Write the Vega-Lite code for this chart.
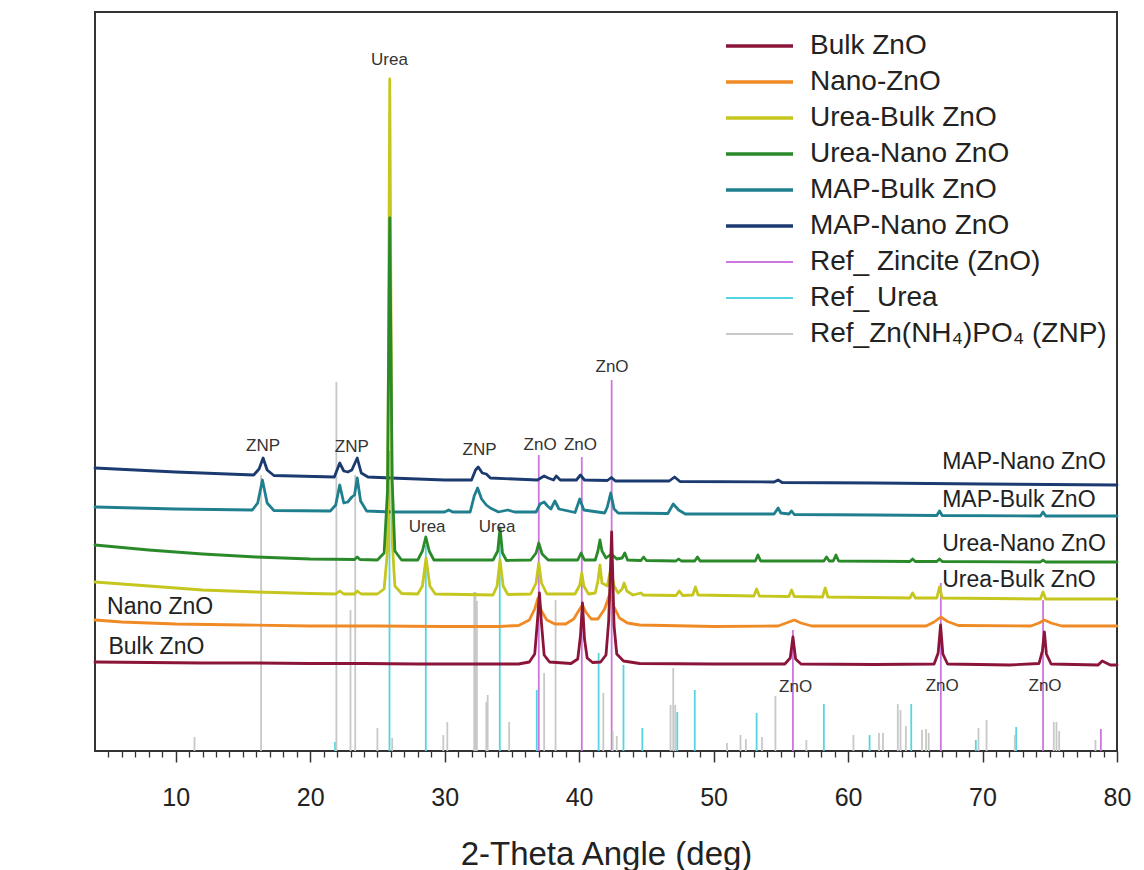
{
"$schema": "https://vega.github.io/schema/vega-lite/v6.json",
"width": 1022, "height": 739,
"autosize": {"type": "none"},
"padding": {"left": 95, "top": 12, "right": 27, "bottom": 119},
"background": "white",
"config": {"font": "Liberation Sans", "view": {"stroke": "#333", "strokeWidth": 2}, "axis": {"grid": false}},
"datasets": {
"sticks": [
{"series":"Ref_ Zincite (ZnO)","angle":37.0,"intensity":296},{"series":"Ref_ Zincite (ZnO)","angle":40.2,"intensity":294},{"series":"Ref_ Zincite (ZnO)","angle":42.42,"intensity":371},{"series":"Ref_ Zincite (ZnO)","angle":55.9,"intensity":121},{"series":"Ref_ Zincite (ZnO)","angle":66.9,"intensity":168},{"series":"Ref_ Zincite (ZnO)","angle":74.5,"intensity":151},{"series":"Ref_ Zincite (ZnO)","angle":78.8,"intensity":22},
{"series":"Ref_ Urea","angle":21.85,"intensity":9},{"series":"Ref_ Urea","angle":25.9,"intensity":300},{"series":"Ref_ Urea","angle":28.6,"intensity":206},{"series":"Ref_ Urea","angle":34.1,"intensity":216},{"series":"Ref_ Urea","angle":36.85,"intensity":61},{"series":"Ref_ Urea","angle":41.45,"intensity":98},{"series":"Ref_ Urea","angle":43.3,"intensity":86},{"series":"Ref_ Urea","angle":44.7,"intensity":23},{"series":"Ref_ Urea","angle":47.3,"intensity":39},{"series":"Ref_ Urea","angle":48.6,"intensity":61},{"series":"Ref_ Urea","angle":53.2,"intensity":38},{"series":"Ref_ Urea","angle":58.2,"intensity":47},{"series":"Ref_ Urea","angle":61.6,"intensity":16},{"series":"Ref_ Urea","angle":64.7,"intensity":47},{"series":"Ref_ Urea","angle":69.5,"intensity":11},{"series":"Ref_ Urea","angle":72.5,"intensity":24},
{"series":"Ref_Zn(NH₄)PO₄ (ZNP)","angle":11.4,"intensity":14},{"series":"Ref_Zn(NH₄)PO₄ (ZNP)","angle":16.35,"intensity":276},{"series":"Ref_Zn(NH₄)PO₄ (ZNP)","angle":21.95,"intensity":369},{"series":"Ref_Zn(NH₄)PO₄ (ZNP)","angle":23.0,"intensity":141},{"series":"Ref_Zn(NH₄)PO₄ (ZNP)","angle":23.35,"intensity":276},{"series":"Ref_Zn(NH₄)PO₄ (ZNP)","angle":25.0,"intensity":23},{"series":"Ref_Zn(NH₄)PO₄ (ZNP)","angle":26.1,"intensity":13},{"series":"Ref_Zn(NH₄)PO₄ (ZNP)","angle":29.9,"intensity":16},{"series":"Ref_Zn(NH₄)PO₄ (ZNP)","angle":30.2,"intensity":29},{"series":"Ref_Zn(NH₄)PO₄ (ZNP)","angle":32.2,"intensity":159},{"series":"Ref_Zn(NH₄)PO₄ (ZNP)","angle":32.3,"intensity":159},{"series":"Ref_Zn(NH₄)PO₄ (ZNP)","angle":32.4,"intensity":150},{"series":"Ref_Zn(NH₄)PO₄ (ZNP)","angle":33.1,"intensity":49},{"series":"Ref_Zn(NH₄)PO₄ (ZNP)","angle":33.2,"intensity":56},{"series":"Ref_Zn(NH₄)PO₄ (ZNP)","angle":34.8,"intensity":29},{"series":"Ref_Zn(NH₄)PO₄ (ZNP)","angle":37.4,"intensity":78},{"series":"Ref_Zn(NH₄)PO₄ (ZNP)","angle":38.25,"intensity":151},{"series":"Ref_Zn(NH₄)PO₄ (ZNP)","angle":41.8,"intensity":58},{"series":"Ref_Zn(NH₄)PO₄ (ZNP)","angle":42.5,"intensity":20},{"series":"Ref_Zn(NH₄)PO₄ (ZNP)","angle":42.8,"intensity":15},{"series":"Ref_Zn(NH₄)PO₄ (ZNP)","angle":46.8,"intensity":46},{"series":"Ref_Zn(NH₄)PO₄ (ZNP)","angle":47.0,"intensity":83},{"series":"Ref_Zn(NH₄)PO₄ (ZNP)","angle":47.15,"intensity":46},{"series":"Ref_Zn(NH₄)PO₄ (ZNP)","angle":51.0,"intensity":8},{"series":"Ref_Zn(NH₄)PO₄ (ZNP)","angle":52.0,"intensity":16},{"series":"Ref_Zn(NH₄)PO₄ (ZNP)","angle":52.4,"intensity":12},{"series":"Ref_Zn(NH₄)PO₄ (ZNP)","angle":53.6,"intensity":14},{"series":"Ref_Zn(NH₄)PO₄ (ZNP)","angle":54.6,"intensity":55},{"series":"Ref_Zn(NH₄)PO₄ (ZNP)","angle":56.9,"intensity":11},{"series":"Ref_Zn(NH₄)PO₄ (ZNP)","angle":60.4,"intensity":16},{"series":"Ref_Zn(NH₄)PO₄ (ZNP)","angle":62.3,"intensity":18},{"series":"Ref_Zn(NH₄)PO₄ (ZNP)","angle":62.6,"intensity":18},{"series":"Ref_Zn(NH₄)PO₄ (ZNP)","angle":63.7,"intensity":47},{"series":"Ref_Zn(NH₄)PO₄ (ZNP)","angle":63.9,"intensity":41},{"series":"Ref_Zn(NH₄)PO₄ (ZNP)","angle":64.3,"intensity":25},{"series":"Ref_Zn(NH₄)PO₄ (ZNP)","angle":65.5,"intensity":21},{"series":"Ref_Zn(NH₄)PO₄ (ZNP)","angle":65.8,"intensity":22},{"series":"Ref_Zn(NH₄)PO₄ (ZNP)","angle":66.0,"intensity":18},{"series":"Ref_Zn(NH₄)PO₄ (ZNP)","angle":69.7,"intensity":23},{"series":"Ref_Zn(NH₄)PO₄ (ZNP)","angle":70.3,"intensity":31},{"series":"Ref_Zn(NH₄)PO₄ (ZNP)","angle":72.4,"intensity":16},{"series":"Ref_Zn(NH₄)PO₄ (ZNP)","angle":75.3,"intensity":29},{"series":"Ref_Zn(NH₄)PO₄ (ZNP)","angle":75.5,"intensity":29},{"series":"Ref_Zn(NH₄)PO₄ (ZNP)","angle":75.7,"intensity":20},{"series":"Ref_Zn(NH₄)PO₄ (ZNP)","angle":78.4,"intensity":11}
],
"patterns": [
{"series":"MAP-Nano ZnO","angle":4,"intensity":283},{"series":"MAP-Nano ZnO","angle":10,"intensity":279},{"series":"MAP-Nano ZnO","angle":15.8,"intensity":276},{"series":"MAP-Nano ZnO","angle":16.2,"intensity":282},{"series":"MAP-Nano ZnO","angle":16.5,"intensity":293},{"series":"MAP-Nano ZnO","angle":16.8,"intensity":281},{"series":"MAP-Nano ZnO","angle":17.3,"intensity":275.5},{"series":"MAP-Nano ZnO","angle":21.8,"intensity":274},{"series":"MAP-Nano ZnO","angle":22.2,"intensity":288},{"series":"MAP-Nano ZnO","angle":22.5,"intensity":280},{"series":"MAP-Nano ZnO","angle":22.8,"intensity":279},{"series":"MAP-Nano ZnO","angle":23.1,"intensity":281},{"series":"MAP-Nano ZnO","angle":23.5,"intensity":293},{"series":"MAP-Nano ZnO","angle":23.8,"intensity":278},{"series":"MAP-Nano ZnO","angle":24.3,"intensity":274},{"series":"MAP-Nano ZnO","angle":26,"intensity":273},{"series":"MAP-Nano ZnO","angle":30,"intensity":271},{"series":"MAP-Nano ZnO","angle":32.0,"intensity":271},{"series":"MAP-Nano ZnO","angle":32.3,"intensity":281},{"series":"MAP-Nano ZnO","angle":32.5,"intensity":284},{"series":"MAP-Nano ZnO","angle":32.8,"intensity":278},{"series":"MAP-Nano ZnO","angle":33.1,"intensity":277},{"series":"MAP-Nano ZnO","angle":33.4,"intensity":273},{"series":"MAP-Nano ZnO","angle":36.9,"intensity":271},{"series":"MAP-Nano ZnO","angle":37.4,"intensity":275},{"series":"MAP-Nano ZnO","angle":37.7,"intensity":273},{"series":"MAP-Nano ZnO","angle":38.1,"intensity":271},{"series":"MAP-Nano ZnO","angle":38.3,"intensity":275},{"series":"MAP-Nano ZnO","angle":38.6,"intensity":271},{"series":"MAP-Nano ZnO","angle":39.8,"intensity":271},{"series":"MAP-Nano ZnO","angle":40.1,"intensity":276},{"series":"MAP-Nano ZnO","angle":40.4,"intensity":271},{"series":"MAP-Nano ZnO","angle":42.1,"intensity":270.5},{"series":"MAP-Nano ZnO","angle":42.4,"intensity":273.5},{"series":"MAP-Nano ZnO","angle":42.7,"intensity":270},{"series":"MAP-Nano ZnO","angle":46.7,"intensity":270},{"series":"MAP-Nano ZnO","angle":47.1,"intensity":274},{"series":"MAP-Nano ZnO","angle":47.5,"intensity":269.5},{"series":"MAP-Nano ZnO","angle":54.5,"intensity":269},{"series":"MAP-Nano ZnO","angle":54.8,"intensity":271},{"series":"MAP-Nano ZnO","angle":55.1,"intensity":268.5},{"series":"MAP-Nano ZnO","angle":62,"intensity":268},{"series":"MAP-Nano ZnO","angle":70,"intensity":267},{"series":"MAP-Nano ZnO","angle":80,"intensity":266},
{"series":"MAP-Bulk ZnO","angle":4,"intensity":244},{"series":"MAP-Bulk ZnO","angle":10,"intensity":242},{"series":"MAP-Bulk ZnO","angle":15.7,"intensity":241},{"series":"MAP-Bulk ZnO","angle":16.1,"intensity":248},{"series":"MAP-Bulk ZnO","angle":16.45,"intensity":271},{"series":"MAP-Bulk ZnO","angle":16.8,"intensity":248},{"series":"MAP-Bulk ZnO","angle":17.3,"intensity":240.5},{"series":"MAP-Bulk ZnO","angle":21.5,"intensity":240},{"series":"MAP-Bulk ZnO","angle":21.9,"intensity":246},{"series":"MAP-Bulk ZnO","angle":22.2,"intensity":266},{"series":"MAP-Bulk ZnO","angle":22.5,"intensity":248},{"series":"MAP-Bulk ZnO","angle":22.8,"intensity":249},{"series":"MAP-Bulk ZnO","angle":23.1,"intensity":254},{"series":"MAP-Bulk ZnO","angle":23.3,"intensity":256},{"series":"MAP-Bulk ZnO","angle":23.5,"intensity":273},{"series":"MAP-Bulk ZnO","angle":23.75,"intensity":250},{"series":"MAP-Bulk ZnO","angle":24.2,"intensity":240},{"series":"MAP-Bulk ZnO","angle":26,"intensity":239},{"series":"MAP-Bulk ZnO","angle":30,"intensity":239},{"series":"MAP-Bulk ZnO","angle":30.3,"intensity":241},{"series":"MAP-Bulk ZnO","angle":30.6,"intensity":239},{"series":"MAP-Bulk ZnO","angle":31.9,"intensity":239},{"series":"MAP-Bulk ZnO","angle":32.2,"intensity":255},{"series":"MAP-Bulk ZnO","angle":32.45,"intensity":263},{"series":"MAP-Bulk ZnO","angle":32.75,"intensity":252},{"series":"MAP-Bulk ZnO","angle":33.1,"intensity":246},{"series":"MAP-Bulk ZnO","angle":33.4,"intensity":243},{"series":"MAP-Bulk ZnO","angle":34.0,"intensity":239},{"series":"MAP-Bulk ZnO","angle":34.7,"intensity":241},{"series":"MAP-Bulk ZnO","angle":35.2,"intensity":239},{"series":"MAP-Bulk ZnO","angle":36.8,"intensity":239},{"series":"MAP-Bulk ZnO","angle":37.1,"intensity":247},{"series":"MAP-Bulk ZnO","angle":37.4,"intensity":249},{"series":"MAP-Bulk ZnO","angle":37.65,"intensity":245},{"series":"MAP-Bulk ZnO","angle":37.9,"intensity":242},{"series":"MAP-Bulk ZnO","angle":38.2,"intensity":250},{"series":"MAP-Bulk ZnO","angle":38.5,"intensity":242},{"series":"MAP-Bulk ZnO","angle":39.7,"intensity":238.5},{"series":"MAP-Bulk ZnO","angle":40.05,"intensity":252},{"series":"MAP-Bulk ZnO","angle":40.35,"intensity":241},{"series":"MAP-Bulk ZnO","angle":41.9,"intensity":238},{"series":"MAP-Bulk ZnO","angle":42.1,"intensity":244},{"series":"MAP-Bulk ZnO","angle":42.35,"intensity":258},{"series":"MAP-Bulk ZnO","angle":42.6,"intensity":242},{"series":"MAP-Bulk ZnO","angle":42.9,"intensity":238},{"series":"MAP-Bulk ZnO","angle":46.6,"intensity":237.5},{"series":"MAP-Bulk ZnO","angle":47.0,"intensity":247},{"series":"MAP-Bulk ZnO","angle":47.4,"intensity":241},{"series":"MAP-Bulk ZnO","angle":47.9,"intensity":237},{"series":"MAP-Bulk ZnO","angle":54.5,"intensity":237},{"series":"MAP-Bulk ZnO","angle":54.8,"intensity":243},{"series":"MAP-Bulk ZnO","angle":55.0,"intensity":238},{"series":"MAP-Bulk ZnO","angle":55.6,"intensity":237},{"series":"MAP-Bulk ZnO","angle":55.8,"intensity":240},{"series":"MAP-Bulk ZnO","angle":56.0,"intensity":236.5},{"series":"MAP-Bulk ZnO","angle":62,"intensity":236},{"series":"MAP-Bulk ZnO","angle":66.6,"intensity":235.5},{"series":"MAP-Bulk ZnO","angle":66.8,"intensity":240},{"series":"MAP-Bulk ZnO","angle":67.0,"intensity":235.5},{"series":"MAP-Bulk ZnO","angle":74.3,"intensity":235},{"series":"MAP-Bulk ZnO","angle":74.5,"intensity":239},{"series":"MAP-Bulk ZnO","angle":74.7,"intensity":235},{"series":"MAP-Bulk ZnO","angle":80,"intensity":235},
{"series":"Urea-Bulk ZnO","angle":4,"intensity":169},{"series":"Urea-Bulk ZnO","angle":8,"intensity":165},{"series":"Urea-Bulk ZnO","angle":12,"intensity":161},{"series":"Urea-Bulk ZnO","angle":16,"intensity":159},{"series":"Urea-Bulk ZnO","angle":20,"intensity":157.5},{"series":"Urea-Bulk ZnO","angle":21.9,"intensity":157},{"series":"Urea-Bulk ZnO","angle":22.2,"intensity":160},{"series":"Urea-Bulk ZnO","angle":22.5,"intensity":157},{"series":"Urea-Bulk ZnO","angle":23.3,"intensity":157},{"series":"Urea-Bulk ZnO","angle":23.5,"intensity":160},{"series":"Urea-Bulk ZnO","angle":23.8,"intensity":157},{"series":"Urea-Bulk ZnO","angle":25.0,"intensity":157},{"series":"Urea-Bulk ZnO","angle":25.5,"intensity":162},{"series":"Urea-Bulk ZnO","angle":25.75,"intensity":200},{"series":"Urea-Bulk ZnO","angle":25.92,"intensity":672},{"series":"Urea-Bulk ZnO","angle":26.1,"intensity":210},{"series":"Urea-Bulk ZnO","angle":26.3,"intensity":165},{"series":"Urea-Bulk ZnO","angle":26.8,"intensity":157.5},{"series":"Urea-Bulk ZnO","angle":28.0,"intensity":157},{"series":"Urea-Bulk ZnO","angle":28.35,"intensity":165},{"series":"Urea-Bulk ZnO","angle":28.62,"intensity":193},{"series":"Urea-Bulk ZnO","angle":28.9,"intensity":165},{"series":"Urea-Bulk ZnO","angle":29.3,"intensity":157},{"series":"Urea-Bulk ZnO","angle":33.6,"intensity":156},{"series":"Urea-Bulk ZnO","angle":33.9,"intensity":165},{"series":"Urea-Bulk ZnO","angle":34.12,"intensity":191},{"series":"Urea-Bulk ZnO","angle":34.35,"intensity":165},{"series":"Urea-Bulk ZnO","angle":34.7,"intensity":156.5},{"series":"Urea-Bulk ZnO","angle":36.4,"intensity":157},{"series":"Urea-Bulk ZnO","angle":36.8,"intensity":168},{"series":"Urea-Bulk ZnO","angle":37.0,"intensity":188},{"series":"Urea-Bulk ZnO","angle":37.2,"intensity":168},{"series":"Urea-Bulk ZnO","angle":37.6,"intensity":157},{"series":"Urea-Bulk ZnO","angle":39.7,"intensity":157},{"series":"Urea-Bulk ZnO","angle":40.05,"intensity":166},{"series":"Urea-Bulk ZnO","angle":40.2,"intensity":178},{"series":"Urea-Bulk ZnO","angle":40.35,"intensity":165},{"series":"Urea-Bulk ZnO","angle":40.7,"intensity":157},{"series":"Urea-Bulk ZnO","angle":41.2,"intensity":158},{"series":"Urea-Bulk ZnO","angle":41.4,"intensity":170},{"series":"Urea-Bulk ZnO","angle":41.55,"intensity":186},{"series":"Urea-Bulk ZnO","angle":41.7,"intensity":168},{"series":"Urea-Bulk ZnO","angle":42.1,"intensity":165},{"series":"Urea-Bulk ZnO","angle":42.35,"intensity":182},{"series":"Urea-Bulk ZnO","angle":42.6,"intensity":165},{"series":"Urea-Bulk ZnO","angle":42.9,"intensity":158},{"series":"Urea-Bulk ZnO","angle":43.2,"intensity":162},{"series":"Urea-Bulk ZnO","angle":43.35,"intensity":168},{"series":"Urea-Bulk ZnO","angle":43.55,"intensity":160},{"series":"Urea-Bulk ZnO","angle":44.0,"intensity":156},{"series":"Urea-Bulk ZnO","angle":44.6,"intensity":158},{"series":"Urea-Bulk ZnO","angle":44.75,"intensity":156},{"series":"Urea-Bulk ZnO","angle":47.2,"intensity":155.5},{"series":"Urea-Bulk ZnO","angle":47.45,"intensity":160},{"series":"Urea-Bulk ZnO","angle":47.7,"intensity":155.5},{"series":"Urea-Bulk ZnO","angle":48.45,"intensity":156},{"series":"Urea-Bulk ZnO","angle":48.65,"intensity":164},{"series":"Urea-Bulk ZnO","angle":48.85,"intensity":156},{"series":"Urea-Bulk ZnO","angle":53.0,"intensity":155},{"series":"Urea-Bulk ZnO","angle":53.2,"intensity":162},{"series":"Urea-Bulk ZnO","angle":53.4,"intensity":155},{"series":"Urea-Bulk ZnO","angle":55.6,"intensity":154.5},{"series":"Urea-Bulk ZnO","angle":55.8,"intensity":161},{"series":"Urea-Bulk ZnO","angle":56.0,"intensity":154.5},{"series":"Urea-Bulk ZnO","angle":58.1,"intensity":154},{"series":"Urea-Bulk ZnO","angle":58.3,"intensity":163},{"series":"Urea-Bulk ZnO","angle":58.5,"intensity":154},{"series":"Urea-Bulk ZnO","angle":64.6,"intensity":153},{"series":"Urea-Bulk ZnO","angle":64.8,"intensity":158},{"series":"Urea-Bulk ZnO","angle":65.0,"intensity":153},{"series":"Urea-Bulk ZnO","angle":66.6,"intensity":153},{"series":"Urea-Bulk ZnO","angle":66.8,"intensity":164},{"series":"Urea-Bulk ZnO","angle":67.0,"intensity":153},{"series":"Urea-Bulk ZnO","angle":74.3,"intensity":152},{"series":"Urea-Bulk ZnO","angle":74.5,"intensity":159},{"series":"Urea-Bulk ZnO","angle":74.7,"intensity":152},{"series":"Urea-Bulk ZnO","angle":80,"intensity":152},
{"series":"Urea-Nano ZnO","angle":4,"intensity":206},{"series":"Urea-Nano ZnO","angle":8,"intensity":201},{"series":"Urea-Nano ZnO","angle":12,"intensity":197},{"series":"Urea-Nano ZnO","angle":16,"intensity":194},{"series":"Urea-Nano ZnO","angle":20,"intensity":192},{"series":"Urea-Nano ZnO","angle":23.3,"intensity":191.5},{"series":"Urea-Nano ZnO","angle":23.5,"intensity":194},{"series":"Urea-Nano ZnO","angle":23.7,"intensity":191.5},{"series":"Urea-Nano ZnO","angle":25.0,"intensity":191},{"series":"Urea-Nano ZnO","angle":25.5,"intensity":198},{"series":"Urea-Nano ZnO","angle":25.75,"intensity":260},{"series":"Urea-Nano ZnO","angle":25.92,"intensity":533},{"series":"Urea-Nano ZnO","angle":26.1,"intensity":270},{"series":"Urea-Nano ZnO","angle":26.3,"intensity":200},{"series":"Urea-Nano ZnO","angle":26.8,"intensity":191},{"series":"Urea-Nano ZnO","angle":28.0,"intensity":191},{"series":"Urea-Nano ZnO","angle":28.35,"intensity":200},{"series":"Urea-Nano ZnO","angle":28.6,"intensity":214},{"series":"Urea-Nano ZnO","angle":28.85,"intensity":200},{"series":"Urea-Nano ZnO","angle":29.2,"intensity":191},{"series":"Urea-Nano ZnO","angle":33.6,"intensity":191},{"series":"Urea-Nano ZnO","angle":33.95,"intensity":200},{"series":"Urea-Nano ZnO","angle":34.12,"intensity":223},{"series":"Urea-Nano ZnO","angle":34.3,"intensity":198},{"series":"Urea-Nano ZnO","angle":34.6,"intensity":190.5},{"series":"Urea-Nano ZnO","angle":36.4,"intensity":191},{"series":"Urea-Nano ZnO","angle":36.8,"intensity":198},{"series":"Urea-Nano ZnO","angle":37.0,"intensity":208},{"series":"Urea-Nano ZnO","angle":37.25,"intensity":197},{"series":"Urea-Nano ZnO","angle":37.7,"intensity":191},{"series":"Urea-Nano ZnO","angle":39.9,"intensity":191},{"series":"Urea-Nano ZnO","angle":40.15,"intensity":198},{"series":"Urea-Nano ZnO","angle":40.4,"intensity":191},{"series":"Urea-Nano ZnO","angle":41.2,"intensity":191},{"series":"Urea-Nano ZnO","angle":41.4,"intensity":200},{"series":"Urea-Nano ZnO","angle":41.55,"intensity":211},{"series":"Urea-Nano ZnO","angle":41.7,"intensity":200},{"series":"Urea-Nano ZnO","angle":42.0,"intensity":193},{"series":"Urea-Nano ZnO","angle":42.4,"intensity":197},{"series":"Urea-Nano ZnO","angle":42.8,"intensity":192},{"series":"Urea-Nano ZnO","angle":43.2,"intensity":193},{"series":"Urea-Nano ZnO","angle":43.4,"intensity":198},{"series":"Urea-Nano ZnO","angle":43.6,"intensity":191},{"series":"Urea-Nano ZnO","angle":44.6,"intensity":190.5},{"series":"Urea-Nano ZnO","angle":44.8,"intensity":194},{"series":"Urea-Nano ZnO","angle":45.0,"intensity":190.5},{"series":"Urea-Nano ZnO","angle":47.2,"intensity":190},{"series":"Urea-Nano ZnO","angle":47.4,"intensity":192},{"series":"Urea-Nano ZnO","angle":47.6,"intensity":190},{"series":"Urea-Nano ZnO","angle":48.6,"intensity":190},{"series":"Urea-Nano ZnO","angle":48.8,"intensity":194},{"series":"Urea-Nano ZnO","angle":49.0,"intensity":190},{"series":"Urea-Nano ZnO","angle":53.1,"intensity":190},{"series":"Urea-Nano ZnO","angle":53.3,"intensity":196},{"series":"Urea-Nano ZnO","angle":53.5,"intensity":190},{"series":"Urea-Nano ZnO","angle":58.2,"intensity":190},{"series":"Urea-Nano ZnO","angle":58.4,"intensity":194},{"series":"Urea-Nano ZnO","angle":58.6,"intensity":190},{"series":"Urea-Nano ZnO","angle":58.9,"intensity":190},{"series":"Urea-Nano ZnO","angle":59.1,"intensity":196},{"series":"Urea-Nano ZnO","angle":59.3,"intensity":190},{"series":"Urea-Nano ZnO","angle":64.6,"intensity":189.5},{"series":"Urea-Nano ZnO","angle":64.8,"intensity":192},{"series":"Urea-Nano ZnO","angle":65.0,"intensity":189.5},{"series":"Urea-Nano ZnO","angle":66.6,"intensity":189.5},{"series":"Urea-Nano ZnO","angle":66.8,"intensity":192},{"series":"Urea-Nano ZnO","angle":67.0,"intensity":189.5},{"series":"Urea-Nano ZnO","angle":74.3,"intensity":189},{"series":"Urea-Nano ZnO","angle":74.5,"intensity":191},{"series":"Urea-Nano ZnO","angle":74.7,"intensity":189},{"series":"Urea-Nano ZnO","angle":80,"intensity":189},
{"series":"Nano-ZnO","angle":4,"intensity":131},{"series":"Nano-ZnO","angle":6,"intensity":129},{"series":"Nano-ZnO","angle":10,"intensity":127},{"series":"Nano-ZnO","angle":15,"intensity":126},{"series":"Nano-ZnO","angle":20,"intensity":125},{"series":"Nano-ZnO","angle":25,"intensity":125},{"series":"Nano-ZnO","angle":30,"intensity":124.5},{"series":"Nano-ZnO","angle":34,"intensity":124.5},{"series":"Nano-ZnO","angle":35.5,"intensity":125.5},{"series":"Nano-ZnO","angle":36.3,"intensity":131},{"series":"Nano-ZnO","angle":36.7,"intensity":142},{"series":"Nano-ZnO","angle":36.95,"intensity":153},{"series":"Nano-ZnO","angle":37.2,"intensity":140},{"series":"Nano-ZnO","angle":37.6,"intensity":131},{"series":"Nano-ZnO","angle":38.2,"intensity":127},{"series":"Nano-ZnO","angle":39.0,"intensity":127},{"series":"Nano-ZnO","angle":39.6,"intensity":132},{"series":"Nano-ZnO","angle":40.0,"intensity":141},{"series":"Nano-ZnO","angle":40.25,"intensity":146},{"series":"Nano-ZnO","angle":40.5,"intensity":139},{"series":"Nano-ZnO","angle":40.9,"intensity":132},{"series":"Nano-ZnO","angle":41.4,"intensity":132},{"series":"Nano-ZnO","angle":41.9,"intensity":142},{"series":"Nano-ZnO","angle":42.25,"intensity":156},{"series":"Nano-ZnO","angle":42.6,"intensity":144},{"series":"Nano-ZnO","angle":43.0,"intensity":133},{"series":"Nano-ZnO","angle":43.6,"intensity":128},{"series":"Nano-ZnO","angle":44.5,"intensity":126},{"series":"Nano-ZnO","angle":50,"intensity":124.5},{"series":"Nano-ZnO","angle":54.8,"intensity":125},{"series":"Nano-ZnO","angle":55.5,"intensity":128.5},{"series":"Nano-ZnO","angle":56.0,"intensity":131},{"series":"Nano-ZnO","angle":56.5,"intensity":128},{"series":"Nano-ZnO","angle":57.3,"intensity":125},{"series":"Nano-ZnO","angle":65.8,"intensity":125},{"series":"Nano-ZnO","angle":66.4,"intensity":129},{"series":"Nano-ZnO","angle":66.9,"intensity":134},{"series":"Nano-ZnO","angle":67.4,"intensity":129.5},{"series":"Nano-ZnO","angle":68.2,"intensity":125.5},{"series":"Nano-ZnO","angle":73.6,"intensity":125},{"series":"Nano-ZnO","angle":74.2,"intensity":128},{"series":"Nano-ZnO","angle":74.6,"intensity":131},{"series":"Nano-ZnO","angle":75.1,"intensity":128},{"series":"Nano-ZnO","angle":75.9,"intensity":125},{"series":"Nano-ZnO","angle":80,"intensity":125},
{"series":"Bulk ZnO","angle":4,"intensity":89},{"series":"Bulk ZnO","angle":8,"intensity":88.5},{"series":"Bulk ZnO","angle":12,"intensity":88},{"series":"Bulk ZnO","angle":16,"intensity":88},{"series":"Bulk ZnO","angle":20,"intensity":87.5},{"series":"Bulk ZnO","angle":24,"intensity":87.5},{"series":"Bulk ZnO","angle":28,"intensity":87},{"series":"Bulk ZnO","angle":32,"intensity":87},{"series":"Bulk ZnO","angle":35.5,"intensity":87},{"series":"Bulk ZnO","angle":36.3,"intensity":89},{"series":"Bulk ZnO","angle":36.7,"intensity":97},{"series":"Bulk ZnO","angle":36.9,"intensity":130},{"series":"Bulk ZnO","angle":37.05,"intensity":158},{"series":"Bulk ZnO","angle":37.2,"intensity":128},{"series":"Bulk ZnO","angle":37.4,"intensity":96},{"series":"Bulk ZnO","angle":37.8,"intensity":89},{"series":"Bulk ZnO","angle":39.4,"intensity":87.5},{"series":"Bulk ZnO","angle":39.9,"intensity":92},{"series":"Bulk ZnO","angle":40.1,"intensity":115},{"series":"Bulk ZnO","angle":40.25,"intensity":148},{"series":"Bulk ZnO","angle":40.4,"intensity":112},{"series":"Bulk ZnO","angle":40.6,"intensity":93},{"series":"Bulk ZnO","angle":41.0,"intensity":88.5},{"series":"Bulk ZnO","angle":41.6,"intensity":89},{"series":"Bulk ZnO","angle":42.0,"intensity":96},{"series":"Bulk ZnO","angle":42.2,"intensity":130},{"series":"Bulk ZnO","angle":42.42,"intensity":219},{"series":"Bulk ZnO","angle":42.6,"intensity":125},{"series":"Bulk ZnO","angle":42.8,"intensity":97},{"series":"Bulk ZnO","angle":43.3,"intensity":90},{"series":"Bulk ZnO","angle":44.5,"intensity":87.5},{"series":"Bulk ZnO","angle":50,"intensity":87},{"series":"Bulk ZnO","angle":55.3,"intensity":87},{"series":"Bulk ZnO","angle":55.7,"intensity":93},{"series":"Bulk ZnO","angle":55.9,"intensity":114},{"series":"Bulk ZnO","angle":56.1,"intensity":92},{"series":"Bulk ZnO","angle":56.5,"intensity":87},{"series":"Bulk ZnO","angle":62,"intensity":86.5},{"series":"Bulk ZnO","angle":66.4,"intensity":87},{"series":"Bulk ZnO","angle":66.7,"intensity":98},{"series":"Bulk ZnO","angle":66.88,"intensity":126},{"series":"Bulk ZnO","angle":67.05,"intensity":97},{"series":"Bulk ZnO","angle":67.4,"intensity":87},{"series":"Bulk ZnO","angle":72,"intensity":86},{"series":"Bulk ZnO","angle":74.2,"intensity":87.5},{"series":"Bulk ZnO","angle":74.45,"intensity":100},{"series":"Bulk ZnO","angle":74.6,"intensity":119},{"series":"Bulk ZnO","angle":74.75,"intensity":97},{"series":"Bulk ZnO","angle":75.1,"intensity":87},{"series":"Bulk ZnO","angle":78.6,"intensity":86},{"series":"Bulk ZnO","angle":78.9,"intensity":90},{"series":"Bulk ZnO","angle":79.2,"intensity":88},{"series":"Bulk ZnO","angle":79.5,"intensity":86},{"series":"Bulk ZnO","angle":80,"intensity":86}
],
"notes": [
{"label":"Urea","angle":25.9,"intensity":691},{"label":"ZNP","angle":16.5,"intensity":305},{"label":"ZNP","angle":23.1,"intensity":304},{"label":"ZNP","angle":32.6,"intensity":301},{"label":"ZnO","angle":37.1,"intensity":306},{"label":"ZnO","angle":40.1,"intensity":306},{"label":"ZnO","angle":42.45,"intensity":384},{"label":"Urea","angle":28.7,"intensity":224},{"label":"Urea","angle":33.9,"intensity":224},{"label":"ZnO","angle":56.1,"intensity":64},{"label":"ZnO","angle":67.0,"intensity":65},{"label":"ZnO","angle":74.65,"intensity":65}
],
"names": [
{"label":"MAP-Nano ZnO","angle":67.0,"intensity":289},{"label":"MAP-Bulk ZnO","angle":67.0,"intensity":251},{"label":"Urea-Nano ZnO","angle":67.0,"intensity":207},{"label":"Urea-Bulk ZnO","angle":67.0,"intensity":171},{"label":"Nano ZnO","angle":4.9,"intensity":144},{"label":"Bulk ZnO","angle":5.0,"intensity":104}
]
},
"layer": [
{"data": {"name": "sticks"}, "mark": {"type": "rule", "strokeWidth": 1.8},
 "encoding": {
  "x": {"field": "angle", "type": "quantitative", "scale": {"domain": [4, 80], "nice": false, "zero": false},
        "axis": {"orient": "bottom", "values": [5,6,7,8,9,11,12,13,14,15,16,17,18,19,21,22,23,24,25,26,27,28,29,31,32,33,34,35,36,37,38,39,41,42,43,44,45,46,47,48,49,51,52,53,54,55,56,57,58,59,61,62,63,64,65,66,67,68,69,71,72,73,74,75,76,77,78,79], "title": null, "labels": false, "domain": false, "grid": false, "tickSize": 6, "tickWidth": 1.3, "tickColor": "#333"}},
  "y": {"field": "intensity", "type": "quantitative", "scale": {"domain": [0, 739], "nice": false, "zero": false},
        "axis": {"title": "Intensity", "labels": false, "ticks": false, "domain": false, "grid": false, "titleFontSize": 34, "titleFontWeight": "normal", "titleColor": "#222", "titleX": -67, "titleY": 369.5, "titleBaseline": "middle", "titleAngle": -90}},
  "y2": {"datum": 0},
  "color": {"field": "series", "type": "nominal",
    "scale": {"domain": ["Bulk ZnO","Nano-ZnO","Urea-Bulk ZnO","Urea-Nano ZnO","MAP-Bulk ZnO","MAP-Nano ZnO","Ref_ Zincite (ZnO)","Ref_ Urea","Ref_Zn(NH₄)PO₄ (ZNP)"],
              "range": ["#8a1538","#f08a24","#c5c61e","#2a8a2a","#1f7f8f","#1a3a70","#cc77dd","#55d5e0","#c8c8c8"]},
    "legend": {"title": null, "orient": "none", "legendX": 650.5, "legendY": 20, "padding": 0, "symbolType": "stroke", "symbolSize": 4489, "symbolStrokeWidth": 3, "labelFontSize": 28, "labelColor": "#222", "labelOffset": 36.5, "symbolOffset": 0, "rowPadding": 8, "labelLimit": 400,
      "encode": {"symbols": {"update": {"strokeWidth": {"signal": "datum.index >= 6 ? 2 : 3.5"}}}}}}
 }},
{"data": {"name": "patterns"}, "mark": {"type": "line", "strokeWidth": 2.8, "strokeJoin": "round", "strokeCap": "round"},
 "encoding": {
  "x": {"field": "angle", "type": "quantitative", "scale": {"domain": [4, 80], "nice": false, "zero": false},
        "axis": {"orient": "bottom", "values": [10,20,30,40,50,60,70,80], "title": "2-Theta Angle (deg)", "domain": false, "grid": false, "tickSize": 11, "tickWidth": 1.5, "tickColor": "#333", "labelFontSize": 25, "labelColor": "#222", "labelPadding": 23, "labelFlush": false, "labelOverlap": false, "titleFontSize": 33, "titleFontWeight": "normal", "titleColor": "#222", "titleX": 511, "titleY": 113, "titleBaseline": "alphabetic"}},
  "y": {"field": "intensity", "type": "quantitative", "scale": {"domain": [0, 739], "nice": false, "zero": false},
        "axis": {"title": "Intensity", "labels": false, "ticks": false, "domain": false, "grid": false, "titleFontSize": 34, "titleFontWeight": "normal", "titleColor": "#222", "titleX": -67, "titleY": 369.5, "titleBaseline": "middle", "titleAngle": -90}},
  "color": {"field": "series", "type": "nominal",
    "scale": {"domain": ["Bulk ZnO","Nano-ZnO","Urea-Bulk ZnO","Urea-Nano ZnO","MAP-Bulk ZnO","MAP-Nano ZnO","Ref_ Zincite (ZnO)","Ref_ Urea","Ref_Zn(NH₄)PO₄ (ZNP)"],
              "range": ["#8a1538","#f08a24","#c5c61e","#2a8a2a","#1f7f8f","#1a3a70","#cc77dd","#55d5e0","#c8c8c8"]},
    "legend": {"title": null, "orient": "none", "legendX": 650.5, "legendY": 20, "padding": 0, "symbolType": "stroke", "symbolSize": 4489, "symbolStrokeWidth": 3, "labelFontSize": 28, "labelColor": "#222", "labelOffset": 36.5, "symbolOffset": 0, "rowPadding": 8, "labelLimit": 400,
      "encode": {"symbols": {"update": {"strokeWidth": {"signal": "datum.index >= 6 ? 2 : 3.5"}}}}}}
 }},
{"data": {"name": "notes"}, "mark": {"type": "text", "fontSize": 17, "color": "#333", "baseline": "middle"},
 "encoding": {
  "x": {"field": "angle", "type": "quantitative", "axis": null},
  "y": {"field": "intensity", "type": "quantitative", "axis": null},
  "text": {"field": "label"}
 }},
{"data": {"name": "names"}, "mark": {"type": "text", "fontSize": 23, "color": "#222", "align": "left", "baseline": "middle"},
 "encoding": {
  "x": {"field": "angle", "type": "quantitative", "axis": null},
  "y": {"field": "intensity", "type": "quantitative", "axis": null},
  "text": {"field": "label"}
 }}
],
"resolve": {"axis": {"x": "independent"}}
}
